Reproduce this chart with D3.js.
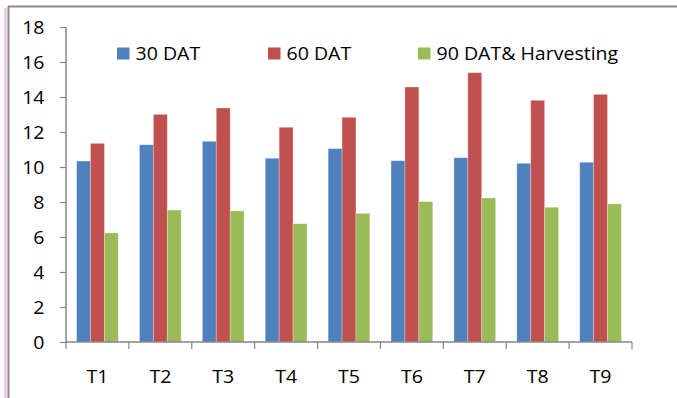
<!DOCTYPE html>
<html>
<head>
<meta charset="utf-8">
<script src="https://cdn.jsdelivr.net/npm/d3@7"></script>
<style>
  html, body { margin: 0; padding: 0; background: #fff; }
  svg { display: block; }
  text { font-family: "Open Sans", "Noto Sans", sans-serif; fill: #000; }
</style>
</head>
<body>
<svg id="chart" width="677" height="398"></svg>
<script>
const categories = ["T1","T2","T3","T4","T5","T6","T7","T8","T9"];
const seriesNames = ["30 DAT", "60 DAT", "90 DAT& Harvesting"];
const dat30 = [10.34, 11.27, 11.47, 10.50, 11.05, 10.36, 10.53, 10.21, 10.27];
const dat60 = [11.35, 13.01, 13.37, 12.27, 12.84, 14.57, 15.39, 13.81, 14.15];
const dat90 = [6.23, 7.54, 7.49, 6.76, 7.35, 8.02, 8.23, 7.70, 7.89];
const yTicks = [0, 2, 4, 6, 8, 10, 12, 14, 16, 18];
const colors = ["#4F81BD", "#C0504D", "#9BBB59"];

const seriesValues = [dat30, dat60, dat90];
const svg = d3.select("#chart");
const SX = 1.13;
const FS = "17.3px";

// frame
svg.append("line").attr("x1", 5.5).attr("x2", 5.5).attr("y1", 8).attr("y2", 398)
  .attr("stroke", "#eeb6e6").attr("stroke-width", 2);
svg.append("line").attr("x1", 8.5).attr("x2", 8.5).attr("y1", 6).attr("y2", 398)
  .attr("stroke", "#8c8c8c").attr("stroke-width", 2);
svg.append("line").attr("x1", 8).attr("x2", 677).attr("y1", 6.5).attr("y2", 6.5)
  .attr("stroke", "#8c8c8c").attr("stroke-width", 2);

const x0 = d3.scaleBand().domain(categories).range([66, 632]).paddingInner(0.337).paddingOuter(0.1685);
const x1 = d3.scaleBand().domain(d3.range(seriesNames.length)).range([0, x0.bandwidth()]);
const y = d3.scaleLinear().domain([0, 18]).range([342, 27]);

// bars
const rows = categories.map((c, i) => ({cat: c, vals: seriesValues.map(s => s[i])}));
const g = svg.append("g").selectAll("g").data(rows).join("g")
  .attr("transform", d => `translate(${x0(d.cat)},0)`);
g.selectAll("rect").data(d => d.vals.map((v, k) => ({v, k}))).join("rect")
  .attr("x", d => x1(d.k))
  .attr("y", d => y(d.v))
  .attr("width", x1.bandwidth())
  .attr("height", d => y(0) - y(d.v))
  .attr("fill", d => colors[d.k])
  .attr("stroke", "rgba(255,255,255,0.35)")
  .attr("stroke-width", 0.8);

// y axis
const yAxis = svg.append("g").attr("transform", "translate(66,0)")
  .call(d3.axisLeft(y).tickValues(yTicks).tickSize(6).tickPadding(0).tickFormat(d3.format("d")));
yAxis.select(".domain").attr("stroke", "#868686").attr("stroke-width", 1.5).attr("d", "M0,27V342");
yAxis.selectAll(".tick line").attr("stroke", "#868686").attr("stroke-width", 1.2);
yAxis.selectAll(".tick text").attr("x", null).attr("dy", null).attr("text-anchor", "end")
  .attr("transform", "translate(-21.5,6.2) scale(" + SX + ",1)")
  .style("font-size", FS);

// x axis
const xAxis = svg.append("g").attr("transform", "translate(0,342)")
  .call(d3.axisBottom(x0).tickSize(0).tickPadding(0));
xAxis.select(".domain").attr("stroke", "#868686").attr("stroke-width", 1.5).attr("d", "M66,0H632");
xAxis.selectAll(".tick text").attr("y", null).attr("dy", null).attr("text-anchor", "middle")
  .attr("transform", "translate(0,41.3) scale(" + SX + ",1)")
  .style("font-size", FS);
const bounds = categories.map(c => x0(c) - x0.step() * x0.paddingInner() / 2).concat([632]);
svg.append("g").selectAll("line").data(bounds).join("line")
  .attr("x1", d => d).attr("x2", d => d).attr("y1", 342).attr("y2", 349)
  .attr("stroke", "#868686").attr("stroke-width", 1.2);

// legend
const legendX = [117, 268, 418];
const lg = svg.append("g").selectAll("g").data(seriesNames).join("g")
  .attr("transform", (d, i) => `translate(${legendX[i]},0)`);
lg.append("rect").attr("x", 0).attr("y", 47.5).attr("width", 12.5).attr("height", 12)
  .attr("fill", (d, i) => colors[i]);
lg.append("text").attr("transform", "translate(18.5,59.8) scale(" + SX + ",1)")
  .style("font-size", FS).text(d => d);
</script>
</body>
</html>
